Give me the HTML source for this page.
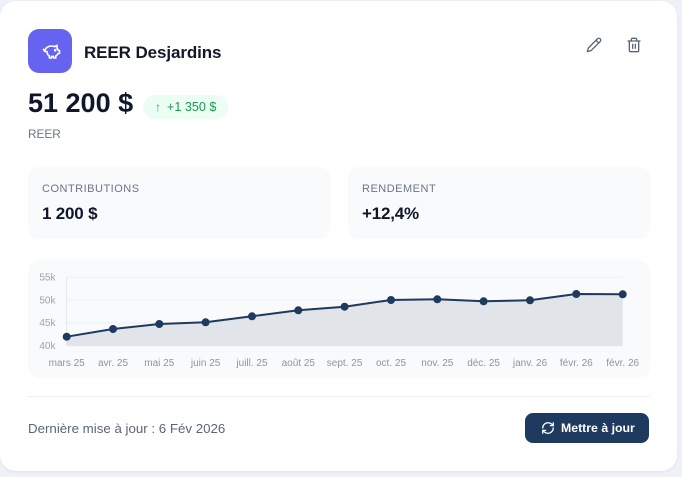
<!DOCTYPE html>
<html><head><meta charset="utf-8">
<style>
*{margin:0;padding:0;box-sizing:border-box}
html,body{width:682px;height:477px;overflow:hidden;background:#eef1f7;font-family:"Liberation Sans",sans-serif}
.card{position:absolute;left:0;top:1px;width:677px;height:470px;background:#fff;border-radius:16px;box-shadow:0 1px 3px rgba(15,23,42,0.06)}
.abs{position:absolute}
.icon{left:28px;top:29px;width:44px;height:44px;border-radius:11px;background:#6763f1}
.title{left:84px;top:43px;font-size:17px;font-weight:bold;color:#111827;letter-spacing:-0.1px;line-height:20px}
.amount{left:28px;top:88px;font-size:27px;font-weight:bold;color:#0f172a;letter-spacing:0;line-height:30px;white-space:nowrap}
.badge{left:143px;top:95px;width:85px;height:24px;border-radius:12px;background:#ecfdf3;color:#1a9a52;font-size:12.6px;line-height:24px;white-space:nowrap}
.sub{left:28px;top:127px;font-size:11.8px;color:#6b7588;line-height:14px}
.stat{top:167px;height:72px;width:302px;border-radius:10px;background:#f8fafc}
.slabel{position:absolute;left:14px;top:15px;font-size:11px;letter-spacing:0.5px;color:#6b7588;line-height:14px}
.sval{position:absolute;left:14px;top:37px;font-size:17px;font-weight:bold;color:#0f172a;line-height:20px;letter-spacing:-0.2px}
.chart{left:28px;top:260px;width:622px;height:118px;border-radius:12px;background:#f8fafc}
.divider{left:28px;top:396px;width:622px;height:1px;background:#eef0f4}
.foot{left:28px;top:421px;font-size:13.3px;color:#5b6577;line-height:16px;white-space:nowrap}
.btn{left:525px;top:413px;width:124px;height:30px;border-radius:8px;background:#1e3a5f;color:#fff;font-size:12.3px;font-weight:bold;line-height:30px}
</style></head><body>
<div class="card"></div>
<div class="abs icon">
<svg width="44" height="44" viewBox="0 0 44 44" fill="none" stroke="#fff" stroke-width="1.6" stroke-linecap="round" stroke-linejoin="round">
<path d="M17 22.5c0-3.2 2.8-5.5 6.5-5.5c1.2 0 2.3 .2 3.2 .7l2.3-1.4v3c.7 .7 1.1 1.4 1.3 2.2h1.2v3h-1.4c-.5 1-1.3 1.8-2.3 2.3V29h-2.2v-1.6c-.6 .1-1.3 .1-2 0V29h-2.2v-2c-1.6-.9-2.4-2.4-2.4-4.5z"/>
<path d="M17 22c-1 0-1.6-.8-1.4-1.7"/>
<circle cx="27.2" cy="21.2" r=".5" fill="#fff"/>
</svg>
</div>
<div class="abs title">REER Desjardins</div>
<svg class="abs" style="left:586px;top:37px" width="16" height="16" viewBox="0 0 24 24" fill="none" stroke="#5a6478" stroke-width="2" stroke-linecap="round" stroke-linejoin="round"><path d="M17 3a2.85 2.85 0 1 1 4 4L7.5 20.5 2 22l1.5-5.5z"/><path d="M15 5l4 4"/></svg>
<svg class="abs" style="left:626px;top:37px" width="16" height="16" viewBox="0 0 24 24" fill="none" stroke="#5a6478" stroke-width="2" stroke-linecap="round" stroke-linejoin="round"><path d="M3 6h18"/><path d="M19 6v14a2 2 0 0 1-2 2H7a2 2 0 0 1-2-2V6"/><path d="M8 6V4a2 2 0 0 1 2-2h4a2 2 0 0 1 2 2v2"/><path d="M10 11v6"/><path d="M14 11v6"/></svg>
<div class="abs amount">51 200 $</div>
<div class="abs badge"><span style="position:absolute;left:12px;font-size:12px;color:#3aa56a">&#8593;</span><span style="position:absolute;left:24px">+1 350 $</span></div>
<div class="abs sub">REER</div>
<div class="abs stat" style="left:28px"><div class="slabel">CONTRIBUTIONS</div><div class="sval">1 200 $</div></div>
<div class="abs stat" style="left:348px"><div class="slabel">RENDEMENT</div><div class="sval">+12,4%</div></div>
<div class="abs chart"></div>
<svg class="abs" style="left:28px;top:260px" width="622" height="118" viewBox="28 260 622 118" font-family="Liberation Sans, sans-serif">
<g stroke="#eceff4" stroke-width="1">
<line x1="66.5" y1="277.3" x2="622.7" y2="277.3"/>
<line x1="66.5" y1="300.1" x2="622.7" y2="300.1"/>
<line x1="66.5" y1="322.9" x2="622.7" y2="322.9"/>
</g>
<line x1="66.5" y1="277" x2="66.5" y2="345.7" stroke="#e6e9ef" stroke-width="1"/>
<path d="M66.7,336.7 L113,329 L159.3,324 L205.6,322.3 L252,316.3 L298.3,310.3 L344.6,306.7 L391,300 L437.3,299.3 L483.6,301.3 L530,300.3 L576.3,294 L622.7,294.3 L622.7,345.7 L66.7,345.7 Z" fill="#e1e4e9"/>
<line x1="66.5" y1="345.7" x2="622.7" y2="345.7" stroke="#e3e6eb" stroke-width="1"/>
<polyline points="66.7,336.7 113,329 159.3,324 205.6,322.3 252,316.3 298.3,310.3 344.6,306.7 391,300 437.3,299.3 483.6,301.3 530,300.3 576.3,294 622.7,294.3" fill="none" stroke="#1e3a5f" stroke-width="2" stroke-linejoin="round"/>
<g fill="#1e3a5f">
<circle cx="66.7" cy="336.7" r="4"/><circle cx="113" cy="329" r="4"/><circle cx="159.3" cy="324" r="4"/><circle cx="205.6" cy="322.3" r="4"/><circle cx="252" cy="316.3" r="4"/><circle cx="298.3" cy="310.3" r="4"/><circle cx="344.6" cy="306.7" r="4"/><circle cx="391" cy="300" r="4"/><circle cx="437.3" cy="299.3" r="4"/><circle cx="483.6" cy="301.3" r="4"/><circle cx="530" cy="300.3" r="4"/><circle cx="576.3" cy="294" r="4"/><circle cx="622.7" cy="294.3" r="4"/>
</g>
<g font-size="10" fill="#9aa3b2" text-anchor="end">
<text x="55.5" y="280.6">55k</text>
<text x="55.5" y="303.4">50k</text>
<text x="55.5" y="326.2">45k</text>
<text x="55.5" y="349">40k</text>
</g>
<g font-size="10" fill="#8b95a5" text-anchor="middle">
<text x="66.7" y="366.2">mars 25</text>
<text x="113" y="366.2">avr. 25</text>
<text x="159.3" y="366.2">mai 25</text>
<text x="205.6" y="366.2">juin 25</text>
<text x="252" y="366.2">juill. 25</text>
<text x="298.3" y="366.2">août 25</text>
<text x="344.6" y="366.2">sept. 25</text>
<text x="391" y="366.2">oct. 25</text>
<text x="437.3" y="366.2">nov. 25</text>
<text x="483.6" y="366.2">déc. 25</text>
<text x="530" y="366.2">janv. 26</text>
<text x="576.3" y="366.2">févr. 26</text>
<text x="622.7" y="366.2">févr. 26</text>
</g>
</svg>
<div class="abs divider"></div>
<div class="abs foot">Dernière mise à jour : 6 Fév 2026</div>
<div class="abs btn">
<svg style="position:absolute;left:16px;top:8px" width="14" height="14" viewBox="0 0 24 24" fill="none" stroke="#fff" stroke-width="2.2" stroke-linecap="round" stroke-linejoin="round"><path d="M3 12a9 9 0 0 1 9-9 9.75 9.75 0 0 1 6.74 2.74L21 8"/><path d="M21 3v5h-5"/><path d="M21 12a9 9 0 0 1-9 9 9.75 9.75 0 0 1-6.74-2.74L3 16"/><path d="M8 16H3v5"/></svg>
<span style="position:absolute;left:36px">Mettre à jour</span>
</div>
</body></html>
